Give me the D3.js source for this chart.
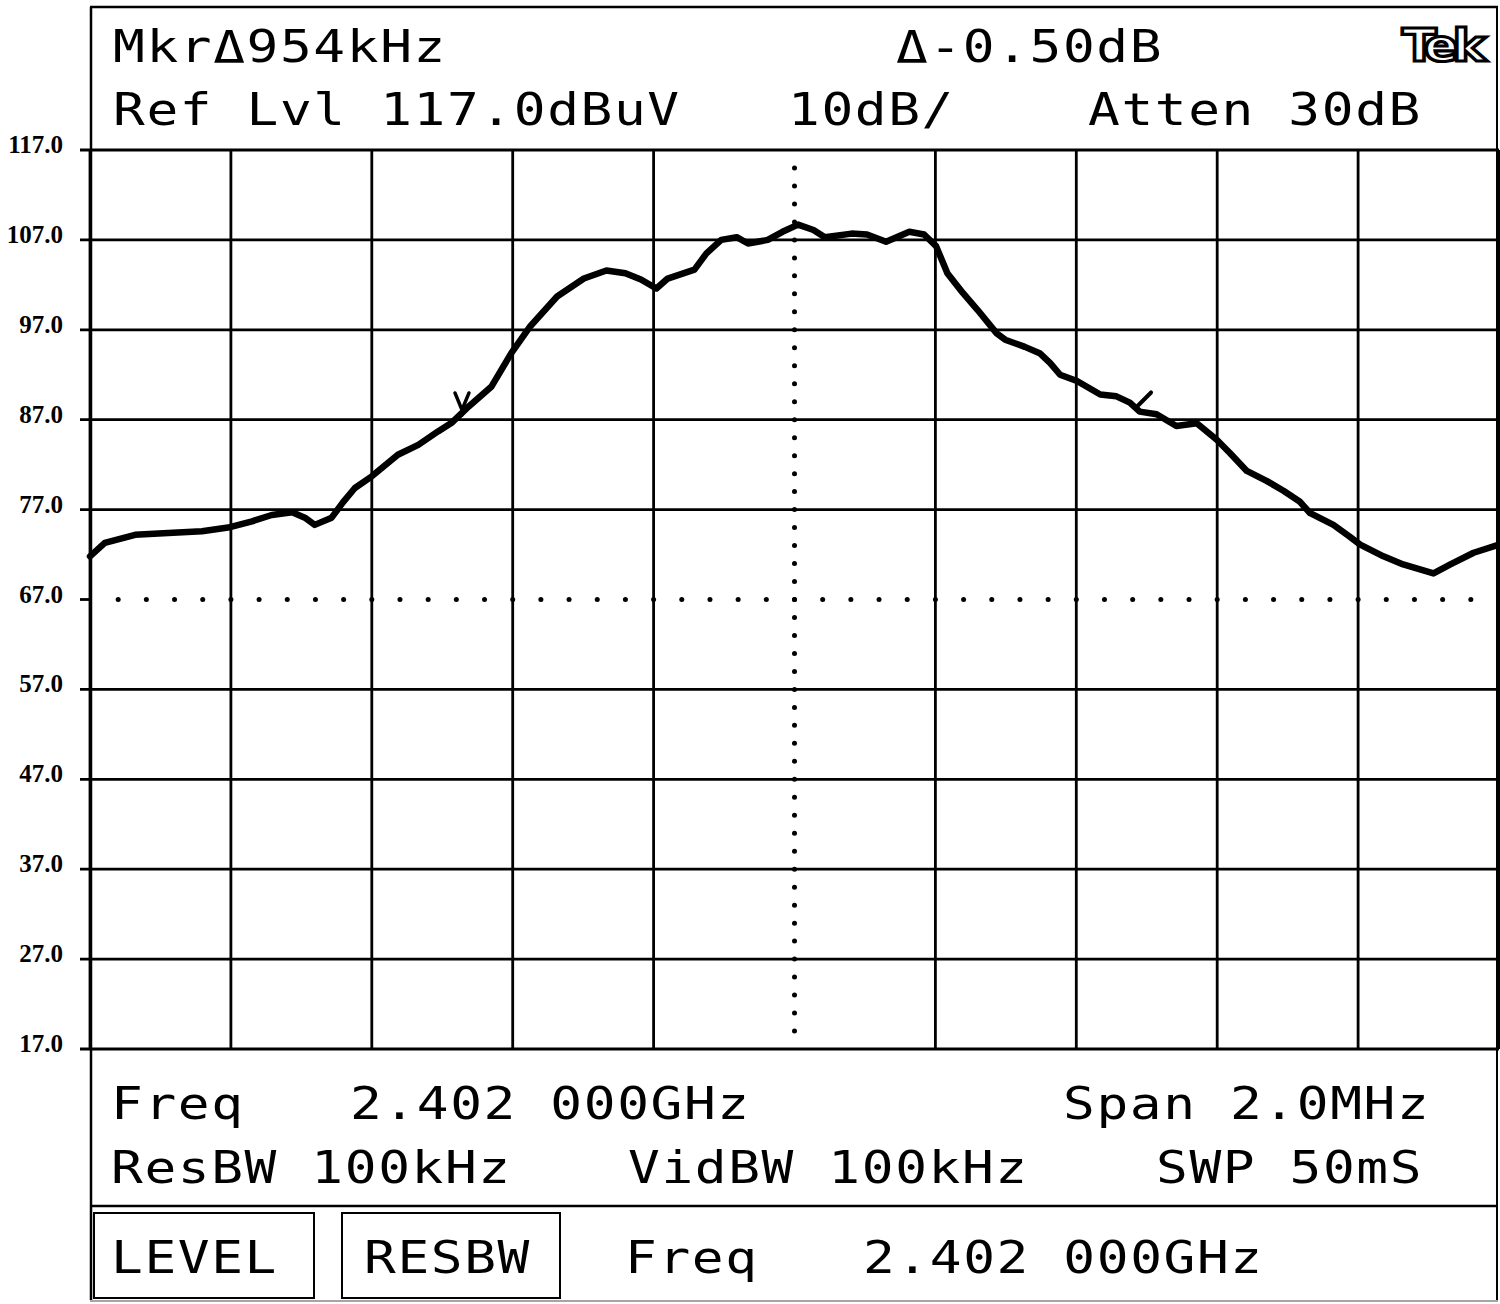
<!DOCTYPE html>
<html><head><meta charset="utf-8">
<script src="https://cdn.jsdelivr.net/npm/d3@7"></script>
<style>
html,body{margin:0;padding:0;background:#fff;}
svg{display:block;}
.mono{font-family:"DejaVu Sans Mono",monospace;font-size:44px;letter-spacing:1.35px;fill:#000;}
.ylab{font-family:"Liberation Serif",serif;font-weight:bold;font-size:25px;fill:#000;}
</style></head>
<body>
<script>
// ---- data ----
const freqKHz = [-1000,-979,-936,-889,-841,-804,-770,-742,-713,-695,-681,-657,-641,-624,-600,-563,-534,-506,-486,-462,-430,-402,-375,-337,-299,-267,-240,-218,-196,-180,-142,-125,-104,-82,-66,-38,-17,5,27,43,81,103,130,163,184,201,217,239,260,287,299,327,348,363,377,401,434,457,476,490,514,542,571,599,618,642,670,694,717,732,765,788,803,836,864,907,931,964,1000];
const levelDb = [71.8,73.3,74.2,74.4,74.6,75.0,75.7,76.4,76.7,76.1,75.3,76.1,77.8,79.4,80.7,83.1,84.2,85.7,86.7,88.5,90.7,94.4,97.4,100.7,102.7,103.6,103.3,102.6,101.6,102.7,103.7,105.5,107.0,107.3,106.6,107.0,107.9,108.7,108.1,107.3,107.7,107.6,106.8,107.9,107.6,106.3,103.3,101.1,99.2,96.6,95.9,95.1,94.4,93.3,92.0,91.3,89.8,89.6,88.9,87.9,87.6,86.3,86.6,84.8,83.3,81.3,80.2,79.1,77.9,76.6,75.3,74.0,73.1,71.8,70.9,69.9,70.9,72.2,73.1];
const yTickValues = [117,107,97,87,77,67,57,47,37,27,17];
const yTickLabels = ["117.0","107.0","97.0","87.0","77.0","67.0","57.0","47.0","37.0","27.0","17.0"];
const xTickValues = [-1000,-800,-600,-400,-200,0,200,400,600,800,1000];
const displayLineDb = 67;
const centerFreqKHz = 0;
const markerFreqKHz = -472;
const markerDeltaKHz = 954;
const headerRow1 = ["Mkr\u0394954kHz", "\u0394-0.50dB"];
const headerRow2 = ["Ref Lvl 117.0dBuV", "10dB/", "Atten 30dB"];
const footerRow1 = ["Freq", "2.402 000GHz", "Span 2.0MHz"];
const footerRow2 = ["ResBW 100kHz", "VidBW 100kHz", "SWP 50mS"];
const softkeys = ["LEVEL", "RESBW"];
const footerRow3 = ["Freq", "2.402 000GHz"];

// ---- layout ----
const W = 1500, H = 1304;
const svg = d3.select("body").append("svg").attr("width", W).attr("height", H);
const x = d3.scaleLinear().domain([-1000, 1000]).range([90, 1499]);
const y = d3.scaleLinear().domain([17, 117]).range([1049, 150]);

// outer frame
const frame = svg.append("g").attr("stroke", "#000").attr("fill", "none");
frame.append("line").attr("x1", 90).attr("x2", 1498).attr("y1", 7).attr("y2", 7).attr("stroke-width", 2.5);
frame.append("line").attr("x1", 91).attr("x2", 91).attr("y1", 7).attr("y2", 1300).attr("stroke-width", 2.5);
frame.append("line").attr("x1", 1497).attr("x2", 1497).attr("y1", 7).attr("y2", 1300).attr("stroke-width", 2);
frame.append("line").attr("x1", 90).attr("x2", 1498).attr("y1", 1206).attr("y2", 1206).attr("stroke-width", 2.5);
frame.append("line").attr("x1", 90).attr("x2", 1498).attr("y1", 1301).attr("y2", 1301).attr("stroke-width", 1.5).attr("stroke", "#888");

// grid
const grid = svg.append("g").attr("stroke", "#000").attr("stroke-width", 2.8);
grid.selectAll("line.h").data(yTickValues.filter(v => v !== displayLineDb)).join("line")
  .attr("x1", 80).attr("x2", 1499).attr("y1", d => y(d)).attr("y2", d => y(d));
grid.selectAll("line.tk").data(yTickValues.filter(v => v === displayLineDb)).join("line")
  .attr("x1", 80).attr("x2", 91).attr("y1", d => y(d)).attr("y2", d => y(d));
grid.selectAll("line.v").data(xTickValues.filter(v => v !== centerFreqKHz)).join("line")
  .attr("class", "v")
  .attr("x1", d => x(d)).attr("x2", d => x(d)).attr("y1", y(117)).attr("y2", y(17));

// dotted display line and center line
const hDots = d3.range(1, 50).map(k => -1000 + k * 40);
svg.append("g").selectAll("circle").data(hDots).join("circle")
  .attr("cx", d => x(d)).attr("cy", y(displayLineDb)).attr("r", 2.5).attr("fill", "#000");
const vDots = d3.range(1, 50).map(k => 117 - k * 2);
svg.append("g").selectAll("circle").data(vDots).join("circle")
  .attr("cx", x(centerFreqKHz)).attr("cy", d => y(d)).attr("r", 2.5).attr("fill", "#000");

// y labels
svg.append("g").selectAll("text").data(yTickValues).join("text")
  .attr("class", "ylab").attr("x", 63).attr("y", d => y(d) + 3).attr("text-anchor", "end")
  .text((d, i) => yTickLabels[i]);

// trace
const pts = freqKHz.map((f, i) => [f, levelDb[i]]);
svg.append("path").datum(pts)
  .attr("d", d3.line().x(d => x(d[0])).y(d => y(d[1])))
  .attr("fill", "none").attr("stroke", "#000").attr("stroke-width", 6.5)
  .attr("stroke-linejoin", "round").attr("stroke-linecap", "round");

// markers
const interp = f => {
  const i = d3.bisectLeft(freqKHz, f);
  const f0 = freqKHz[i - 1], f1 = freqKHz[i];
  const t = (f - f0) / (f1 - f0);
  return levelDb[i - 1] + t * (levelDb[i] - levelDb[i - 1]);
};
const m1x = x(markerFreqKHz), m1y = y(interp(markerFreqKHz));
svg.append("path").attr("d", `M${m1x - 7},${m1y - 20} L${m1x},${m1y - 3} L${m1x + 7},${m1y - 20} M${m1x},${m1y - 3} L${m1x},${m1y + 2}`)
  .attr("fill", "none").attr("stroke", "#000").attr("stroke-width", 3.5).attr("stroke-linecap", "round");
const m2f = markerFreqKHz + markerDeltaKHz;
const m2x = x(m2f), m2y = y(interp(m2f));
svg.append("path").attr("d", `M${m2x + 3},${m2y} L${m2x + 17},${m2y - 14}`)
  .attr("fill", "none").attr("stroke", "#000").attr("stroke-width", 4).attr("stroke-linecap", "round");

// text (instrument font: wide monospace)
const txt = (s, tx, ty) => svg.append("text").attr("class", "mono")
  .attr("transform", `translate(${tx},${ty}) scale(1.2,1)`).text(s);
txt(headerRow1[0], 113, 62);
txt(headerRow1[1], 896, 62);
txt(headerRow2[0], 113, 125);
txt(headerRow2[1], 788, 125);
txt(headerRow2[2], 1088, 125);
txt(footerRow1[0], 111, 1119);
txt(footerRow1[1], 350, 1119);
txt(footerRow1[2], 1063, 1119);
txt(footerRow2[0], 111, 1183);
txt(footerRow2[1], 628, 1183);
txt(footerRow2[2], 1156, 1183);
txt(softkeys[0], 111, 1273);
txt(softkeys[1], 364, 1273);
txt(footerRow3[0], 625, 1273);
txt(footerRow3[1], 863, 1273);

// softkey boxes
svg.append("rect").attr("x", 94).attr("y", 1213).attr("width", 220).attr("height", 85)
  .attr("fill", "none").attr("stroke", "#000").attr("stroke-width", 2);
svg.append("rect").attr("x", 342).attr("y", 1213).attr("width", 218).attr("height", 85)
  .attr("fill", "none").attr("stroke", "#000").attr("stroke-width", 2);

// Tek logo
svg.append("text").attr("transform", "translate(1402,61) scale(1.15,1)")
  .style("font-family", "'DejaVu Sans', sans-serif").style("font-weight", "bold").style("font-size", "44px")
  .style("letter-spacing", "-5px")
  .attr("fill", "#fff").attr("stroke", "#000").attr("stroke-width", 3.2)
  .text("Tek");
</script>
</body></html>
